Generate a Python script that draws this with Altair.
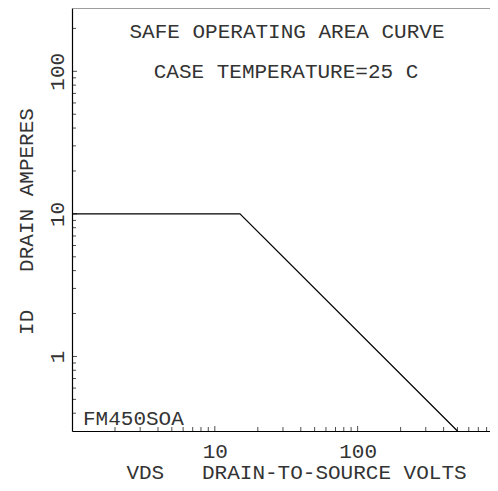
import altair as alt
import pandas as pd

# Curve data (VDS volts, ID amperes)
vds = [1, 15, 500]
id_amps = [10, 10, 0.3]

# Axis tick values
x_major = [10, 100]
x_minor = [2, 3, 4, 5, 6, 7, 8, 9, 20, 30, 40, 50, 60, 70, 80, 90,
           200, 300, 400, 500, 600, 700, 800]
y_major = [1, 10, 100]
y_minor = [0.4, 0.5, 0.6, 0.7, 0.8, 0.9, 2, 3, 4, 5, 6, 7, 8, 9,
           20, 30, 40, 50, 60, 70, 80, 90, 200]

NB = "\u00a0"
title_lines = ["SAFE OPERATING AREA CURVE", "CASE TEMPERATURE=25 C"]
part_label = "FM450SOA"
x_title = "VDS" + NB * 3 + "DRAIN-TO-SOURCE VOLTS"
y_title = "ID" + NB * 3 + "DRAIN AMPERES"

W, H = 418, 423
FONT = "Liberation Mono"
FS = 21
TXT = "#333333"

xs = alt.Scale(type="log", domain=[1, 845], nice=False)
ys = alt.Scale(type="log", domain=[0.3, 278], nice=False)

ax_x = alt.Axis(
    values=x_major, format="d", ticks=False, tickSize=0, grid=False,
    domainColor="black", domainWidth=1.2,
    labelFont=FONT, labelFontSize=FS, labelColor=TXT,
    labelBaseline="alphabetic", labelPadding=26,
    title=x_title, titleFont=FONT, titleFontSize=FS, titleFontWeight="normal",
    titleColor=TXT, titleBaseline="alphabetic", titleX=224, titleY=47,
    titleAlign="center")
ax_y = alt.Axis(
    values=y_major, format="d", ticks=False, tickSize=0, grid=False,
    domainColor="black", domainWidth=1.2,
    labelFont=FONT, labelFontSize=FS, labelColor=TXT, labelAngle=-90,
    labelAlign="center", labelBaseline="alphabetic", labelPadding=9,
    title=y_title, titleFont=FONT, titleFontSize=FS, titleFontWeight="normal",
    titleColor=TXT, titleBaseline="alphabetic", titleAngle=-90,
    titleX=-40, titleY=213, titleAlign="center")

curve_df = pd.DataFrame({"vds": vds, "id": id_amps})

curve = alt.Chart(curve_df).mark_line(color="black", strokeWidth=1.2).encode(
    x=alt.X("vds:Q", scale=xs, axis=ax_x),
    y=alt.Y("id:Q", scale=ys, axis=ax_y),
)

def yticks(vals, length):
    return alt.Chart(pd.DataFrame({"v": vals})).mark_tick(
        color="black", thickness=1, orient="horizontal", size=length
    ).encode(y=alt.Y("v:Q", scale=ys), x=alt.value(length / 2))

def xticks(vals, length):
    return alt.Chart(pd.DataFrame({"v": vals})).mark_tick(
        color="black", thickness=1, orient="vertical", size=length
    ).encode(x=alt.X("v:Q", scale=xs), y=alt.value(H - length / 2))

top_border = alt.Chart(alt.Data(values=[{}])).mark_rule(color="#888888", strokeWidth=1.5).encode(
    x=alt.value(0), x2=alt.value(W), y=alt.value(0))

def label(text, x, y, align):
    return alt.Chart(alt.Data(values=[{}])).mark_text(
        text=text, font=FONT, fontSize=FS, color=TXT, align=align, baseline="alphabetic"
    ).encode(x=alt.value(x), y=alt.value(y))

chart = alt.layer(
    curve,
    yticks(y_minor, 4), yticks(y_major, 5),
    xticks(x_minor, 4), xticks(x_major, 5),
    top_border,
    label(title_lines[0], 215, 30, "center"),
    label(title_lines[1], 214, 70, "center"),
    label(part_label, 11, 417, "left"),
).properties(
    width=W, height=H,
    autosize=alt.AutoSizeParams(type="none"),
    padding={"left": 64, "top": 0, "right": 0, "bottom": 52},
).configure_view(stroke=None).configure(background="white")

chart.save("out.html", embed_options={"renderer": "svg", "actions": False})
